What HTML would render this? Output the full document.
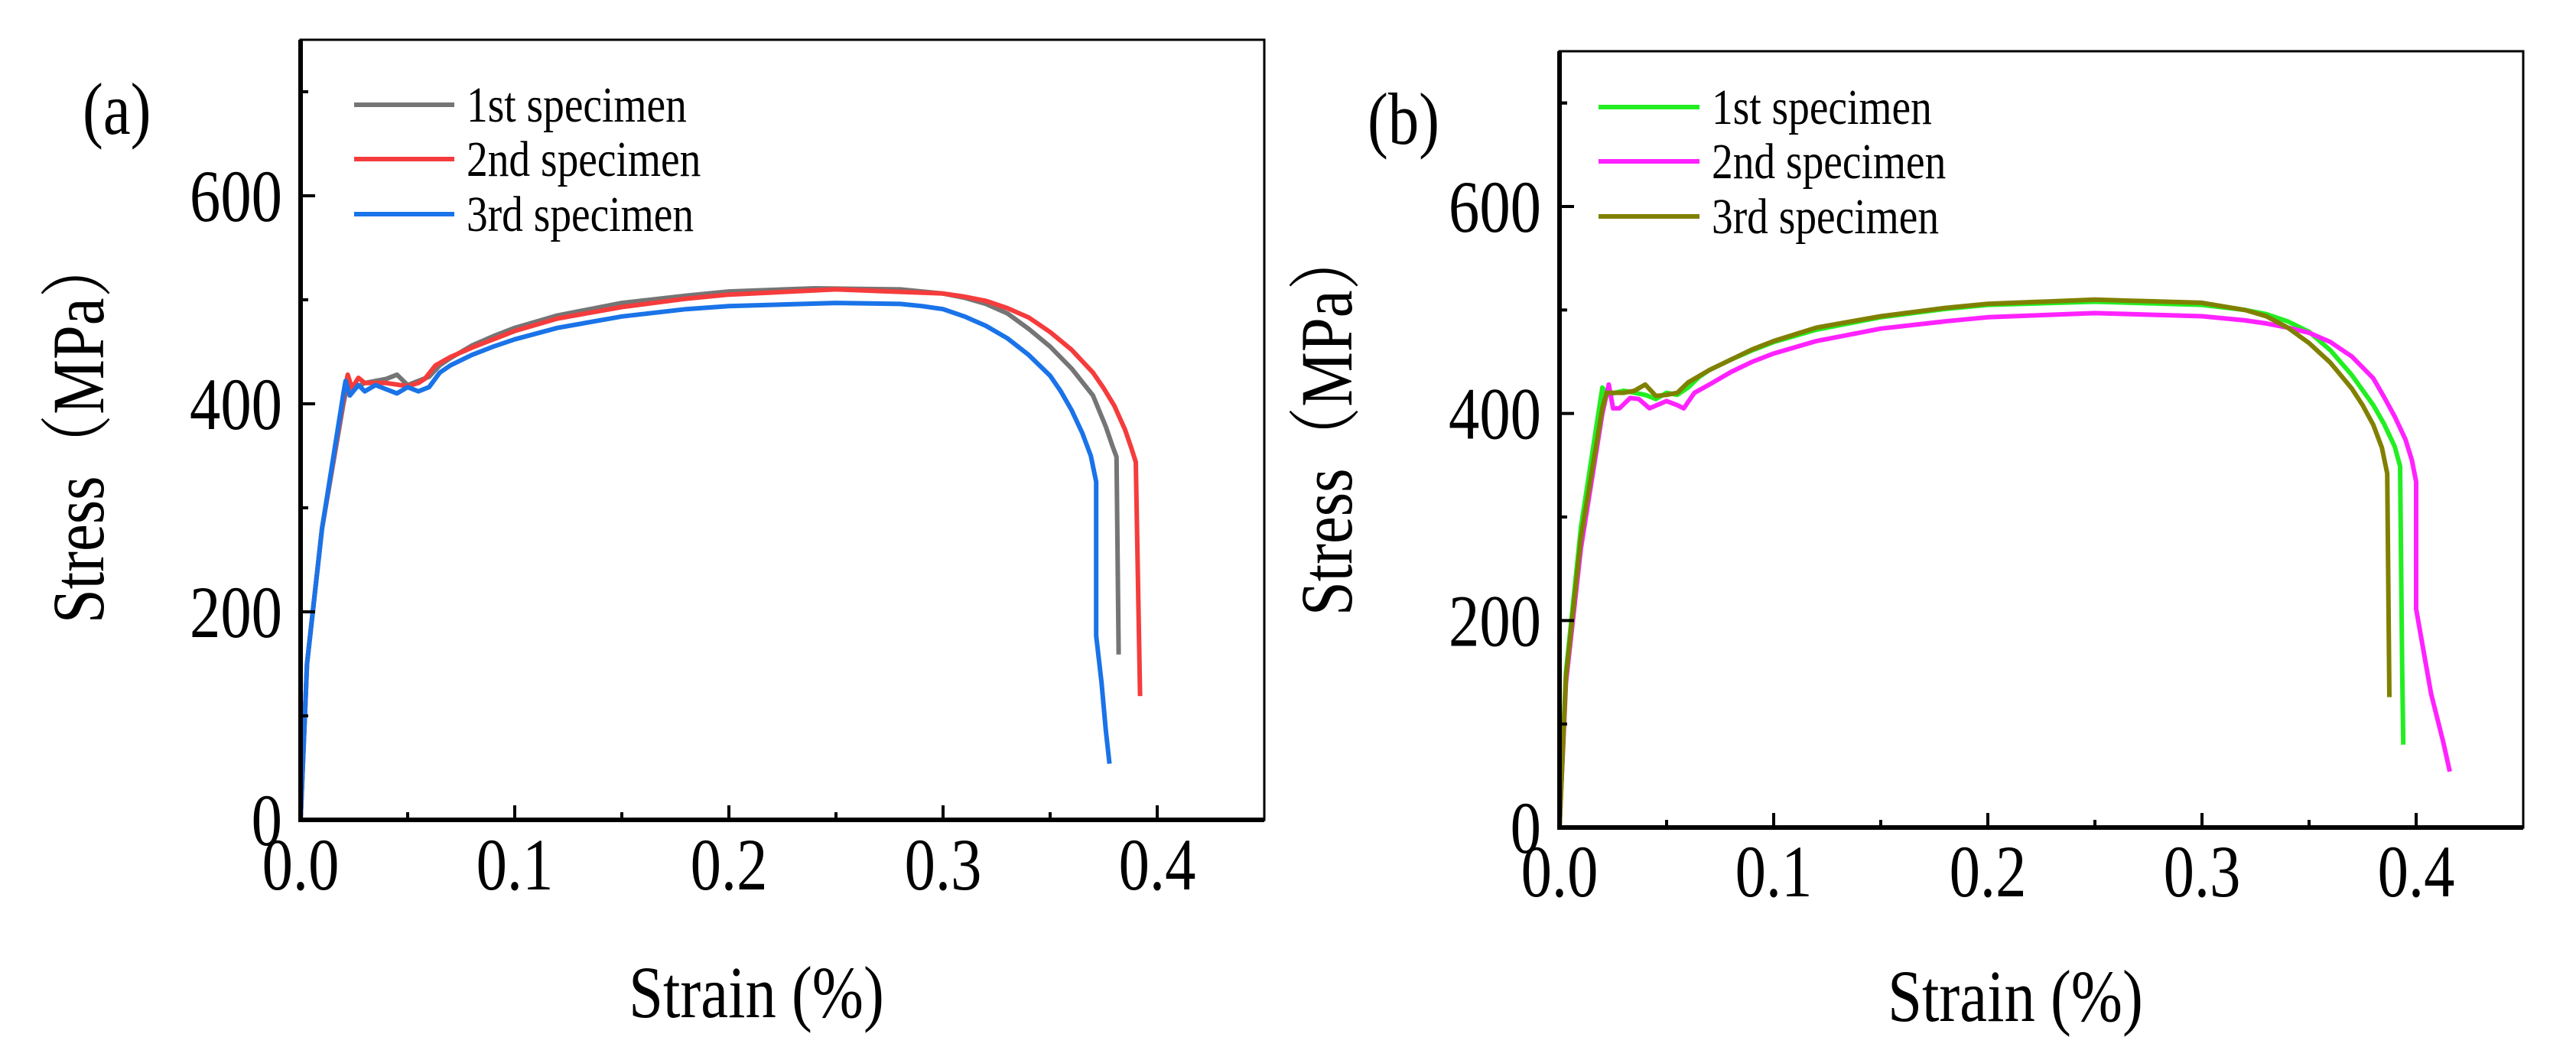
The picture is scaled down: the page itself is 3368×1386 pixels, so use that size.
<!DOCTYPE html>
<html><head><meta charset="utf-8">
<style>
html,body{margin:0;padding:0;background:#fff;}
svg{display:block;font-family:"Liberation Serif",serif;}
</style></head>
<body>
<svg id="fig" width="3368" height="1386" viewBox="0 0 3368 1386" xmlns="http://www.w3.org/2000/svg">
<rect width="3368" height="1386" fill="#fff"/>
</svg>
<script>
const xTicks = [0, 0.1, 0.2, 0.3, 0.4];
const xTickLabels = ["0.0", "0.1", "0.2", "0.3", "0.4"];
const yTicks = [0, 200, 400, 600];
const yTickLabels = ["0", "200", "400", "600"];
const seriesNames = ["1st specimen", "2nd specimen", "3rd specimen"];

// Panel (a) series [strain, stress]
const a1 = [[0,0],[0.003,150],[0.01,280],[0.02,400],[0.022,420],[0.025,415],[0.03,420],[0.035,422],[0.04,424],[0.045,428],[0.05,418],[0.055,422],[0.06,426],[0.065,437],[0.07,444],[0.08,456],[0.09,465],[0.1,473],[0.12,485],[0.15,497],[0.18,504],[0.2,508],[0.24,511],[0.28,510],[0.3,506],[0.31,502],[0.32,496],[0.33,487],[0.34,472],[0.35,455],[0.36,434],[0.37,408],[0.376,378],[0.379,360],[0.381,349],[0.382,159]];
const a2 = [[0,0],[0.003,150],[0.01,280],[0.02,405],[0.022,428],[0.024,415],[0.027,425],[0.03,420],[0.04,420],[0.05,417],[0.055,420],[0.058,424],[0.063,437],[0.07,445],[0.08,454],[0.09,462],[0.1,470],[0.12,482],[0.15,493],[0.18,501],[0.2,505],[0.25,510],[0.3,506],[0.31,503],[0.32,499],[0.33,492],[0.34,483],[0.35,469],[0.36,452],[0.37,430],[0.375,415],[0.38,398],[0.385,375],[0.388,357],[0.39,344],[0.392,119]];
const a3 = [[0,0],[0.003,150],[0.01,280],[0.02,410],[0.021,422],[0.023,408],[0.027,418],[0.03,412],[0.035,418],[0.04,414],[0.045,410],[0.05,416],[0.055,412],[0.06,416],[0.065,430],[0.07,437],[0.08,447],[0.09,455],[0.1,462],[0.12,473],[0.15,484],[0.18,491],[0.2,494],[0.25,497],[0.28,496],[0.29,494],[0.3,491],[0.31,484],[0.32,475],[0.33,463],[0.34,447],[0.35,427],[0.355,412],[0.36,394],[0.365,372],[0.369,350],[0.3715,325],[0.3715,177],[0.374,132],[0.376,86],[0.3777,54]];
// Panel (b)
const b1 = [[0,0],[0.003,150],[0.01,290],[0.02,425],[0.022,418],[0.03,422],[0.04,418],[0.045,414],[0.05,420],[0.055,418],[0.06,425],[0.065,435],[0.07,442],[0.08,452],[0.09,461],[0.1,469],[0.12,481],[0.15,493],[0.18,501],[0.2,505],[0.25,508],[0.3,505],[0.32,500],[0.33,496],[0.34,489],[0.35,479],[0.36,461],[0.37,437],[0.38,408],[0.385,390],[0.39,368],[0.3925,349],[0.3935,150],[0.394,80]];
const b2 = [[0,0],[0.003,140],[0.01,270],[0.02,400],[0.023,428],[0.025,405],[0.028,405],[0.033,415],[0.037,414],[0.042,405],[0.05,412],[0.055,408],[0.058,405],[0.063,420],[0.07,428],[0.08,440],[0.09,450],[0.1,458],[0.12,470],[0.15,482],[0.18,489],[0.2,493],[0.25,497],[0.3,494],[0.32,490],[0.33,487],[0.34,483],[0.35,478],[0.36,469],[0.37,455],[0.38,434],[0.385,416],[0.39,397],[0.395,375],[0.398,355],[0.4,334],[0.4,211],[0.407,129],[0.4126,83],[0.4157,54]];
const b3 = [[0,0],[0.003,145],[0.01,280],[0.02,405],[0.022,420],[0.03,420],[0.035,422],[0.04,428],[0.045,417],[0.05,418],[0.055,420],[0.06,430],[0.07,442],[0.08,452],[0.09,462],[0.1,470],[0.12,483],[0.15,494],[0.18,502],[0.2,506],[0.25,510],[0.3,507],[0.32,500],[0.33,494],[0.34,483],[0.35,468],[0.36,449],[0.37,424],[0.375,408],[0.38,389],[0.384,367],[0.3865,342],[0.3875,126]];

const NS = "http://www.w3.org/2000/svg";
const svg = document.getElementById("fig");
function mk(tag, attrs, parent) {
  const e = document.createElementNS(NS, tag);
  for (const k in attrs) e.setAttribute(k, attrs[k]);
  (parent || svg).appendChild(e);
  return e;
}
const SX = 0.84;
function txt(x, y, size, anchor, str, parent, rot) {
  const t = mk("text", {x: 0, y: 0, "font-size": size, "text-anchor": anchor,
    transform: "translate(" + x + "," + y + ")" + (rot ? " rotate(-90)" : "") + " scale(" + SX + ",1)"}, parent);
  t.textContent = str;
  return t;
}

function panel(cfg) {
  const g = mk("g", {});
  
  
  const X = v => cfg.x0 + (v / 0.45) * (cfg.x1 - cfg.x0);
  const Y = v => cfg.y0 - (v / 750) * (cfg.y0 - cfg.y1);
  cfg.series.forEach((s, i) => {
    const d = s.data.map((p, j) => (j ? "L" : "M") + X(p[0]).toFixed(1) + " " + Y(p[1]).toFixed(1)).join(" ");
    const path = mk("path", {d: d, fill: "none", stroke: s.color, "stroke-width": 6, "stroke-linejoin": "round"}, g);
    
    
  });
  const fr = mk("rect", {x: cfg.x0, y: cfg.y1, width: cfg.x1 - cfg.x0, height: cfg.y0 - cfg.y1, fill: "none", stroke: "#000", "stroke-width": 3}, g);
  
  
  const xa = mk("line", {x1: cfg.x0 - 2, y1: cfg.y0, x2: cfg.x1, y2: cfg.y0, stroke: "#000", "stroke-width": 6}, g);
  
  
  const ya = mk("line", {x1: cfg.x0, y1: cfg.y0 + 3, x2: cfg.x0, y2: cfg.y1, stroke: "#000", "stroke-width": 6}, g);
  
  
  xTicks.forEach((t, i) => {
    mk("line", {x1: X(t), y1: cfg.y0, x2: X(t), y2: cfg.y0 - 19, stroke: "#000", "stroke-width": 4}, g);
    const m = t + 0.05;
    if (m < 0.45) mk("line", {x1: X(m), y1: cfg.y0, x2: X(m), y2: cfg.y0 - 10, stroke: "#000", "stroke-width": 4}, g);
    const tx = txt(X(t), cfg.tickBase, 96, "middle", xTickLabels[i], g);
    
    
  });
  yTicks.forEach((t, i) => {
    mk("line", {x1: cfg.x0, y1: Y(t), x2: cfg.x0 + 19, y2: Y(t), stroke: "#000", "stroke-width": 4}, g);
    mk("line", {x1: cfg.x0, y1: Y(t + 100), x2: cfg.x0 + 10, y2: Y(t + 100), stroke: "#000", "stroke-width": 4}, g);
    const ty = txt(cfg.x0 - 24, Y(t) + 33, 96, "end", yTickLabels[i], g);
    
    
  });
  mk("line", {x1: cfg.x0, y1: Y(700), x2: cfg.x0 + 10, y2: Y(700), stroke: "#000", "stroke-width": 4}, g);
  const xt = txt(cfg.xTitleX, cfg.xTitleY, 96, "middle", "Strain (%)", g);
  
  
  const yt = txt(cfg.yTitleX, cfg.yTitleY, 96, "middle", "Stress（MPa）", g, true);
  yt.style.fontFamily = '"Liberation Serif","Noto Serif CJK SC",serif';
  
  
  const pl = txt(cfg.labelX, cfg.labelY, 96, "start", cfg.label, g);
  
  
  cfg.series.forEach((s, i) => {
    const ly = cfg.legY[i];
    const ll = mk("line", {x1: cfg.legX0, y1: ly, x2: cfg.legX1, y2: ly, stroke: s.color, "stroke-width": 6}, g);
    
    
    const lt = txt(cfg.legTX, ly + 22, 66, "start", seriesNames[i], g);
    
    
  });
}

panel({name: "panel-a", prefix: "a", label: "(a)", x0: 393, x1: 1653, y0: 1072, y1: 52,
  tickBase: 1163, xTitleX: 989, xTitleY: 1330, yTitleX: 135, yTitleY: 562, labelX: 108, labelY: 175,
  legX0: 463, legX1: 594, legTX: 610, legY: [137, 208, 280],
  series: [{data: a1, color: "#757575"}, {data: a2, color: "#f53c3c"}, {data: a3, color: "#1a73e8"}]});
panel({name: "panel-b", prefix: "b", label: "(b)", x0: 2039, x1: 3299, y0: 1082, y1: 67,
  tickBase: 1172, xTitleX: 2635, xTitleY: 1335, yTitleX: 1767, yTitleY: 552, labelX: 1788, labelY: 188,
  legX0: 2090, legX1: 2222, legTX: 2238, legY: [140, 211, 283],
  series: [{data: b1, color: "#22ee22"}, {data: b2, color: "#ff22ff"}, {data: b3, color: "#808000"}]});
</script>
</body></html>
